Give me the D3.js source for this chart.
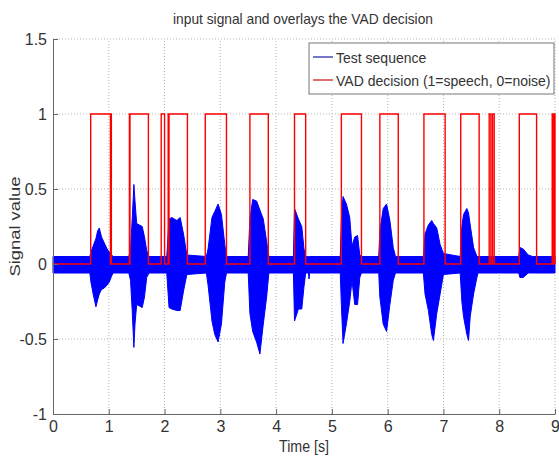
<!DOCTYPE html>
<html>
<head>
<meta charset="utf-8">
<script src="https://cdn.jsdelivr.net/npm/d3@7"></script>
<style>
 body { margin: 0; background: #fff; }
 text { font-family: "Liberation Sans", Arial, sans-serif; fill: #333; }
</style>
</head>
<body>
<script>
'use strict'
// input signal with the VAD decision overlaid, drawn with d3

// signal envelope (time in s, upper and lower edge of the waveform)
let sigTime = [0.00, 0.66, 0.68, 0.72, 0.77, 0.80, 0.83, 0.87, 0.92, 0.97, 1.01, 1.05, 1.08,
 1.36, 1.39, 1.42, 1.45, 1.47, 1.50, 1.55, 1.60, 1.64, 1.68, 1.72,
 2.04, 2.08, 2.13, 2.22, 2.28, 2.34, 2.40,
 2.75, 2.78, 2.85, 2.90, 2.96, 3.02, 3.08, 3.11,
 3.50, 3.53, 3.58, 3.65, 3.71, 3.77, 3.83, 3.87,
 4.31, 4.33, 4.40, 4.46, 4.50, 4.53, 4.58, 4.59, 4.60,
 5.15, 5.17, 5.20, 5.26, 5.32, 5.36, 5.41, 5.46, 5.50, 5.53,
 5.84, 5.86, 5.92, 5.98, 6.04, 6.10, 6.14,
 6.64, 6.67, 6.73, 6.79, 6.82, 6.88, 6.94, 7.00,
 7.30, 7.33, 7.36, 7.42, 7.45, 7.48, 7.54, 7.60, 7.62,
 8.35, 8.37, 8.43, 8.52, 8.60, 9.00];
let sigUpper = [0.05, 0.05, 0.08, 0.12, 0.17, 0.22, 0.24, 0.18, 0.14, 0.10, 0.08, 0.06, 0.05,
 0.05, 0.10, 0.30, 0.53, 0.42, 0.27, 0.26, 0.25, 0.18, 0.09, 0.05,
 0.05, 0.30, 0.31, 0.29, 0.31, 0.20, 0.06,
 0.05, 0.10, 0.31, 0.35, 0.40, 0.33, 0.13, 0.05,
 0.05, 0.30, 0.43, 0.42, 0.36, 0.30, 0.15, 0.05,
 0.05, 0.37, 0.30, 0.25, 0.10, 0.05, 0.05, 0.05, 0.05,
 0.05, 0.30, 0.45, 0.40, 0.31, 0.12, 0.18, 0.19, 0.06, 0.05,
 0.05, 0.22, 0.37, 0.40, 0.29, 0.11, 0.05,
 0.05, 0.20, 0.26, 0.29, 0.27, 0.24, 0.13, 0.07,
 0.05, 0.25, 0.33, 0.37, 0.34, 0.26, 0.11, 0.05, 0.05,
 0.05, 0.11, 0.10, 0.06, 0.05, 0.05];
let sigLower = [-0.06, -0.06, -0.12, -0.20, -0.285, -0.24, -0.20, -0.17, -0.16, -0.14, -0.12, -0.08, -0.06,
 -0.06, -0.11, -0.31, -0.556, -0.40, -0.27, -0.28, -0.29, -0.22, -0.09, -0.06,
 -0.06, -0.29, -0.30, -0.31, -0.31, -0.18, -0.07,
 -0.06, -0.14, -0.38, -0.47, -0.52, -0.40, -0.12, -0.06,
 -0.06, -0.33, -0.45, -0.52, -0.60, -0.40, -0.22, -0.06,
 -0.06, -0.38, -0.30, -0.30, -0.15, -0.06, -0.06, -0.10, -0.06,
 -0.06, -0.27, -0.53, -0.40, -0.25, -0.11, -0.27, -0.27, -0.09, -0.06,
 -0.06, -0.22, -0.40, -0.45, -0.27, -0.11, -0.06,
 -0.06, -0.20, -0.31, -0.47, -0.51, -0.33, -0.20, -0.07,
 -0.06, -0.25, -0.35, -0.47, -0.51, -0.35, -0.20, -0.09, -0.06,
 -0.06, -0.09, -0.09, -0.06, -0.06, -0.06];

// VAD decision: start and end (s) of every interval flagged as speech
let vadStart = [0.676, 1.036, 1.370, 1.380, 1.940, 2.065, 2.080, 2.730, 3.530, 4.330, 5.170, 5.860, 6.650, 7.310, 7.820, 7.880, 8.360, 8.950, 8.975, 8.990];
let vadEnd = [1.030, 1.046, 1.375, 1.710, 2.000, 2.072, 2.410, 3.110, 3.860, 4.530, 5.530, 6.190, 7.030, 7.640, 7.850, 7.910, 8.670, 8.960, 8.985, 9.000];

// axis ticks
let xTicks = [0, 1, 2, 3, 4, 5, 6, 7, 8, 9];
let xTickLabels = ["0", "1", "2", "3", "4", "5", "6", "7", "8", "9"];
let yTicks = [-1, -0.5, 0, 0.5, 1, 1.5];
let yTickLabels = ["-1", "-0.5", "0", "0.5", "1", "1.5"];

let width = 559, height = 457;
let margin = { top: 39, right: 4, bottom: 43, left: 53 };

let svg = d3.select("body").append("svg")
 .attr("width", width)
 .attr("height", height);

let x = d3.scaleLinear().domain([0, 9]).range([margin.left, width - margin.right]);
let y = d3.scaleLinear().domain([-1, 1.5]).range([height - margin.bottom, margin.top]);

// dotted grid
svg.append("g").selectAll("line").data(xTicks.slice(1)).join("line")
 .attr("x1", d => x(d)).attr("x2", d => x(d))
 .attr("y1", y(-1)).attr("y2", y(1.5))
 .attr("stroke", "#b4b4b4").attr("stroke-dasharray", "1,2");
svg.append("g").selectAll("line").data(yTicks.slice(1)).join("line")
 .attr("x1", x(0)).attr("x2", x(9))
 .attr("y1", d => y(d)).attr("y2", d => y(d))
 .attr("stroke", "#b4b4b4").attr("stroke-dasharray", "1,2");

// test sequence, drawn as the band between its upper and lower edge
let sig = sigTime.map((t, i) => ({ t: t, hi: sigUpper[i], lo: sigLower[i] }));
let area = d3.area()
 .x(d => x(d.t))
 .y0(d => y(d.lo))
 .y1(d => y(d.hi));
svg.append("path")
 .datum(sig)
 .attr("d", area)
 .attr("fill", "#0000ff")
 .attr("stroke", "#0000ff")
 .attr("stroke-width", 1);

// VAD decision as a step line
let vad = [{ t: 0, v: 0 }];
vadStart.forEach((s, i) => {
 vad.push({ t: s, v: 0 }, { t: s, v: 1 }, { t: vadEnd[i], v: 1 }, { t: vadEnd[i], v: 0 });
});
vad.push({ t: 9, v: 0 });
let line = d3.line().x(d => x(d.t)).y(d => y(d.v));
svg.append("path")
 .datum(vad)
 .attr("d", line)
 .attr("fill", "none")
 .attr("stroke", "#ff0000")
 .attr("stroke-width", 1.4);

// axes with inward ticks
let xAxis = svg.append("g")
 .attr("transform", "translate(0," + y(-1) + ")")
 .call(d3.axisBottom(x).tickValues(xTicks).tickFormat((d, i) => xTickLabels[i])
  .tickSizeInner(-5).tickSizeOuter(0).tickPadding(7));
let yAxis = svg.append("g")
 .attr("transform", "translate(" + x(0) + ",0)")
 .call(d3.axisLeft(y).tickValues(yTicks).tickFormat((d, i) => yTickLabels[i])
  .tickSizeInner(-5).tickSizeOuter(0).tickPadding(6));
[xAxis, yAxis].forEach(g => {
 g.select(".domain").attr("stroke", "#666");
 g.selectAll(".tick line").attr("stroke", "#666");
 g.selectAll(".tick text").attr("font-size", 16).style("fill", "#333");
});

// title and axis labels
svg.append("text")
 .attr("x", 303).attr("y", 24)
 .attr("text-anchor", "middle")
 .attr("font-size", 15)
 .attr("textLength", 260).attr("lengthAdjust", "spacingAndGlyphs")
 .text("input signal and overlays the VAD decision");
svg.append("text")
 .attr("x", x(4.5)).attr("y", 452)
 .attr("text-anchor", "middle")
 .attr("font-size", 16)
 .attr("textLength", 50).attr("lengthAdjust", "spacingAndGlyphs")
 .text("Time [s]");
svg.append("text")
 .attr("transform", "translate(20," + y(0.25) + ") rotate(-90)")
 .attr("text-anchor", "middle")
 .attr("font-size", 15)
 .attr("textLength", 100).attr("lengthAdjust", "spacingAndGlyphs")
 .text("Signal value");

// legend
let legend = svg.append("g");
legend.append("rect")
 .attr("x", 309).attr("y", 43)
 .attr("width", 245).attr("height", 51)
 .attr("fill", "#fff").attr("stroke", "#777");
let entries = [
 { label: "Test sequence", color: "#2b2bb0" },
 { label: "VAD decision (1=speech, 0=noise)", color: "#d42020" }
];
entries.forEach((e, i) => {
 let cy = 57 + i * 23;
 legend.append("line")
  .attr("x1", 313).attr("x2", 333)
  .attr("y1", cy).attr("y2", cy)
  .attr("stroke", e.color).attr("stroke-width", 1.3);
 legend.append("text")
  .attr("x", 336).attr("y", cy + 5.5)
  .attr("font-size", 14)
  .text(e.label);
});
</script>
</body>
</html>
